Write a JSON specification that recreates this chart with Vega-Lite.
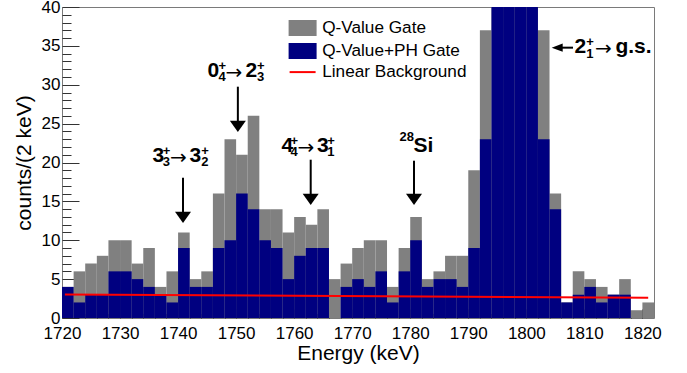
{
 "$schema": "https://vega.github.io/schema/vega-lite/v6.json",
 "width": 592,
 "height": 311,
 "autosize": {"type": "none"},
 "padding": {"left": 62, "top": 7, "right": 33, "bottom": 55},
 "config": {
  "view": {"stroke": "#7a7a7a", "strokeWidth": 1},
  "font": "Liberation Sans",
  "axis": {"domain": false, "grid": false, "ticks": true, "tickColor": "#333333", "tickWidth": 1, "tickOpacity": 1, "zindex": 2, "labelFont": "Liberation Sans", "titleFont": "Liberation Sans", "labelColor": "#000000", "titleColor": "#000000", "titleFontWeight": "normal"}
 },
 "datasets": {
  "bins": [
   {"e0":1720,"e1":1722,"q":4,"ph":4},{"e0":1722,"e1":1724,"q":6,"ph":2},{"e0":1724,"e1":1726,"q":7,"ph":3},{"e0":1726,"e1":1728,"q":8,"ph":3},
   {"e0":1728,"e1":1730,"q":10,"ph":6},{"e0":1730,"e1":1732,"q":10,"ph":6},{"e0":1732,"e1":1734,"q":7,"ph":5},{"e0":1734,"e1":1736,"q":9,"ph":4},
   {"e0":1736,"e1":1738,"q":4,"ph":3},{"e0":1738,"e1":1740,"q":6,"ph":2},{"e0":1740,"e1":1742,"q":11,"ph":9},{"e0":1742,"e1":1744,"q":5,"ph":4},
   {"e0":1744,"e1":1746,"q":6,"ph":4},{"e0":1746,"e1":1748,"q":16,"ph":9},{"e0":1748,"e1":1750,"q":23,"ph":10},{"e0":1750,"e1":1752,"q":21,"ph":16},
   {"e0":1752,"e1":1754,"q":26,"ph":14},{"e0":1754,"e1":1756,"q":14,"ph":10},{"e0":1756,"e1":1758,"q":14,"ph":9},{"e0":1758,"e1":1760,"q":11,"ph":5},
   {"e0":1760,"e1":1762,"q":13,"ph":8},{"e0":1762,"e1":1764,"q":12,"ph":9},{"e0":1764,"e1":1766,"q":14,"ph":9},{"e0":1766,"e1":1768,"q":5,"ph":0},
   {"e0":1768,"e1":1770,"q":7,"ph":4},{"e0":1770,"e1":1772,"q":9,"ph":5},{"e0":1772,"e1":1774,"q":10,"ph":4},{"e0":1774,"e1":1776,"q":10,"ph":6},
   {"e0":1776,"e1":1778,"q":4,"ph":2},{"e0":1778,"e1":1780,"q":9,"ph":6},{"e0":1780,"e1":1782,"q":13,"ph":10},{"e0":1782,"e1":1784,"q":5,"ph":4},
   {"e0":1784,"e1":1786,"q":6,"ph":5},{"e0":1786,"e1":1788,"q":8,"ph":5},{"e0":1788,"e1":1790,"q":8,"ph":4},{"e0":1790,"e1":1792,"q":19,"ph":9},
   {"e0":1792,"e1":1794,"q":37,"ph":23},{"e0":1794,"e1":1796,"q":90,"ph":58},{"e0":1796,"e1":1798,"q":108,"ph":70},{"e0":1798,"e1":1800,"q":102,"ph":66},
   {"e0":1800,"e1":1802,"q":84,"ph":52},{"e0":1802,"e1":1804,"q":37,"ph":23},{"e0":1804,"e1":1806,"q":16,"ph":14},{"e0":1806,"e1":1808,"q":2,"ph":2},
   {"e0":1808,"e1":1810,"q":6,"ph":3},{"e0":1810,"e1":1812,"q":5,"ph":4},{"e0":1812,"e1":1814,"q":4,"ph":2},{"e0":1814,"e1":1816,"q":3,"ph":3},
   {"e0":1816,"e1":1818,"q":5,"ph":3},{"e0":1818,"e1":1820,"q":1,"ph":0},{"e0":1820,"e1":1822,"q":2,"ph":0}
  ],
  "bg": [{"e":1720.5,"bg":3.02},{"e":1821,"bg":2.62}],
  "arrows": [
   {"x":1740.85,"top":18.04,"head":12.94},
   {"x":1750.30,"top":29.75,"head":24.64},
   {"x":1762.85,"top":20.36,"head":15.25},
   {"x":1780.65,"top":20.23,"head":15.25}
  ],
  "larrow": [{"x0":1805.32,"x1":1808.04,"y":34.77}],
  "lbl": [
   {"x":1735.59,"y":20.10,"t":"3","k":"b"},
   {"x":1737.38,"y":21.00,"t":"+","k":"s"},
   {"x":1737.38,"y":19.55,"t":"3","k":"s"},
   {"x":1738.60,"y":19.84,"t":"→","k":"a"},
   {"x":1741.95,"y":20.10,"t":"3","k":"b"},
   {"x":1743.98,"y":21.00,"t":"+","k":"s"},
   {"x":1743.98,"y":19.55,"t":"2","k":"s"},
   {"x":1745.09,"y":31.04,"t":"0","k":"b"},
   {"x":1746.96,"y":31.94,"t":"+","k":"s"},
   {"x":1746.96,"y":30.49,"t":"4","k":"s"},
   {"x":1748.18,"y":30.78,"t":"→","k":"a"},
   {"x":1751.60,"y":31.04,"t":"2","k":"b"},
   {"x":1753.60,"y":31.94,"t":"+","k":"s"},
   {"x":1753.60,"y":30.49,"t":"3","k":"s"},
   {"x":1757.80,"y":21.39,"t":"4","k":"b"},
   {"x":1759.39,"y":22.29,"t":"+","k":"s"},
   {"x":1759.39,"y":20.84,"t":"4","k":"s"},
   {"x":1760.58,"y":21.13,"t":"→","k":"a"},
   {"x":1763.95,"y":21.39,"t":"3","k":"b"},
   {"x":1765.70,"y":22.29,"t":"+","k":"s"},
   {"x":1765.70,"y":20.84,"t":"1","k":"s"},
   {"x":1778.15,"y":22.80,"t":"28","k":"s"},
   {"x":1780.56,"y":21.31,"t":"Si","k":"b"},
   {"x":1808.30,"y":34.05,"t":"2","k":"b"},
   {"x":1810.32,"y":34.95,"t":"+","k":"s"},
   {"x":1810.32,"y":33.50,"t":"1","k":"s"},
   {"x":1811.82,"y":33.79,"t":"→","k":"a"},
   {"x":1815.36,"y":34.05,"t":"g.s.","k":"b"}
  ]
 },
 "layer": [
  {
   "data": {"name": "bins"},
   "mark": {"type": "rect", "clip": true},
   "encoding": {
    "x": {"field": "e0", "type": "quantitative", "scale": {"domain": [1720, 1822], "nice": false, "zero": false},
     "axis": {"orient": "bottom", "values": [1720,1730,1740,1750,1760,1770,1780,1790,1800,1810,1820], "format": "d", "offset": -9, "tickSize": 9, "labelPadding": 7, "labelFontSize": 17, "labelFlush": false, "labelOverlap": false, "title": "Energy (keV)", "titleFontSize": 21, "titlePadding": 1}},
    "x2": {"field": "e1"},
    "y": {"field": "q", "type": "quantitative", "scale": {"domain": [0, 40], "nice": false, "zero": true},
     "axis": {"orient": "left", "values": [0,5,10,15,20,25,30,35,40], "offset": -17, "tickSize": 17, "labelPadding": 2, "labelFontSize": 17, "labelFlush": false, "labelOverlap": false, "title": "counts/(2 keV)", "titleFontSize": 21, "titlePadding": 7}},
    "y2": {"datum": 0},
    "color": {"datum": "Q-Value Gate",
     "scale": {"domain": ["Q-Value Gate", "Q-Value+PH Gate", "Linear Background"], "range": ["#808080", "#000080", "#ff0000"]},
     "legend": {"orient": "none", "legendX": 232, "legendY": 12.5, "title": null, "padding": 0,
      "labelFont": "Liberation Sans", "labelFontSize": 17.2, "labelColor": "#000000", "labelOffset": 11, "labelLimit": 300,
      "symbolSize": 196, "symbolStrokeWidth": 2, "rowPadding": 0,
      "encode": {"symbols": {"update": {
       "shape": {"signal": "datum.value === 'Linear Background' ? 'M-1.857,0L1.857,0' : 'M-1.857,-1L1.857,-1L1.857,1L-1.857,1Z'"},
       "size": {"value": 196},
       "fill": {"signal": "datum.value === 'Q-Value Gate' ? '#808080' : (datum.value === 'Q-Value+PH Gate' ? '#0000ff' : 'transparent')"},
       "stroke": {"signal": "datum.value === 'Linear Background' ? '#ff0000' : 'transparent'"},
       "strokeWidth": {"value": 2},
       "opacity": {"value": 1}
      }}}
     }}
   }
  },
  {
   "data": {"name": "bins"},
   "mark": {"type": "rect", "clip": true},
   "encoding": {
    "x": {"field": "e0", "type": "quantitative",
     "axis": {"orient": "bottom", "values": [1722,1724,1726,1728,1732,1734,1736,1738,1742,1744,1746,1748,1752,1754,1756,1758,1762,1764,1766,1768,1772,1774,1776,1778,1782,1784,1786,1788,1792,1794,1796,1798,1802,1804,1806,1808,1812,1814,1816,1818], "offset": -4.5, "tickSize": 4.5, "labels": false, "title": null}},
    "x2": {"field": "e1"},
    "y": {"field": "ph", "type": "quantitative",
     "axis": {"orient": "left", "values": [1,2,3,4,6,7,8,9,11,12,13,14,16,17,18,19,21,22,23,24,26,27,28,29,31,32,33,34,36,37,38,39], "offset": -9, "tickSize": 9, "labels": false, "title": null}},
    "y2": {"datum": 0},
    "color": {"datum": "Q-Value+PH Gate"}
   }
  },
  {
   "data": {"name": "bg"},
   "mark": {"type": "line", "strokeWidth": 2, "clip": true},
   "encoding": {
    "x": {"field": "e", "type": "quantitative", "axis": null},
    "y": {"field": "bg", "type": "quantitative", "axis": null},
    "color": {"datum": "Linear Background"}
   }
  },
  {
   "data": {"name": "arrows"},
   "mark": {"type": "rule", "strokeWidth": 2, "color": "#000000"},
   "encoding": {
    "x": {"field": "x", "type": "quantitative", "axis": null},
    "y": {"field": "top", "type": "quantitative", "axis": null},
    "y2": {"field": "head"}
   }
  },
  {
   "data": {"name": "arrows"},
   "mark": {"type": "point", "shape": "M-1,-0.7L1,-0.7L0,0.7Z", "filled": true, "size": 256, "color": "#000000", "opacity": 1, "strokeWidth": 0},
   "encoding": {
    "x": {"field": "x", "type": "quantitative", "axis": null},
    "y": {"field": "head", "type": "quantitative", "axis": null}
   }
  },
  {
   "data": {"name": "larrow"},
   "mark": {"type": "rule", "strokeWidth": 2, "color": "#000000"},
   "encoding": {
    "x": {"field": "x0", "type": "quantitative", "axis": null},
    "x2": {"field": "x1"},
    "y": {"field": "y", "type": "quantitative", "axis": null}
   }
  },
  {
   "data": {"name": "larrow"},
   "mark": {"type": "point", "shape": "M-1,0L1,-0.75L1,0.75Z", "filled": true, "size": 121, "color": "#000000", "opacity": 1, "strokeWidth": 0},
   "encoding": {
    "x": {"field": "x0", "type": "quantitative", "axis": null},
    "y": {"field": "y", "type": "quantitative", "axis": null}
   }
  },
  {
   "data": {"name": "lbl"},
   "transform": [{"filter": "datum.k === 'b'"}],
   "mark": {"type": "text", "align": "left", "baseline": "alphabetic", "font": "Liberation Sans", "fontWeight": "bold", "fontSize": 21, "color": "#000000"},
   "encoding": {
    "x": {"field": "x", "type": "quantitative", "axis": null},
    "y": {"field": "y", "type": "quantitative", "axis": null},
    "text": {"field": "t"}
   }
  },
  {
   "data": {"name": "lbl"},
   "transform": [{"filter": "datum.k === 's'"}],
   "mark": {"type": "text", "align": "left", "baseline": "alphabetic", "font": "Liberation Sans", "fontWeight": "bold", "fontSize": 13, "color": "#000000"},
   "encoding": {
    "x": {"field": "x", "type": "quantitative", "axis": null},
    "y": {"field": "y", "type": "quantitative", "axis": null},
    "text": {"field": "t"}
   }
  },
  {
   "data": {"name": "lbl"},
   "transform": [{"filter": "datum.k === 'a'"}],
   "mark": {"type": "text", "align": "left", "baseline": "alphabetic", "font": "DejaVu Sans", "fontWeight": "normal", "fontSize": 20, "color": "#000000"},
   "encoding": {
    "x": {"field": "x", "type": "quantitative", "axis": null},
    "y": {"field": "y", "type": "quantitative", "axis": null},
    "text": {"field": "t"}
   }
  }
 ],
 "resolve": {"axis": {"x": "independent", "y": "independent"}}
}
